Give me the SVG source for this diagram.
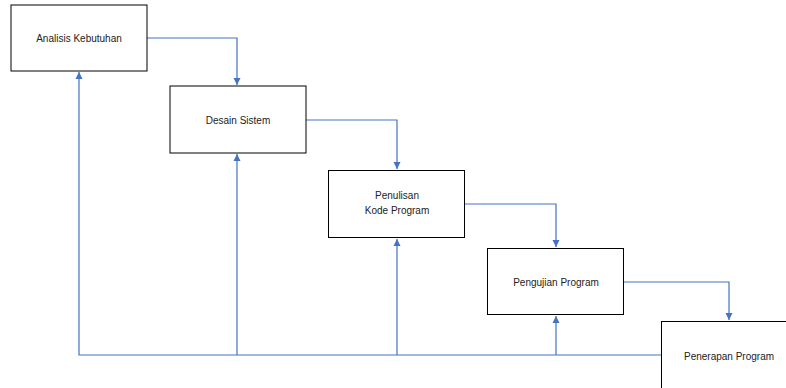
<svg xmlns="http://www.w3.org/2000/svg" width="786" height="388" viewBox="0 0 786 388">
<style>
.box{fill:#fff;stroke:#000;stroke-width:1}
.lbl{font-family:"Liberation Sans",Arial,sans-serif;font-size:10px;fill:#222;text-anchor:middle}
.c{fill:none;stroke:#4472C4;stroke-width:1.2}
</style>
<defs>
<marker id="a" markerWidth="8" markerHeight="8" refX="7" refY="4" orient="auto" markerUnits="userSpaceOnUse">
<path d="M0,0.5 L7,4 L0,7.5 Z" fill="#4472C4"/>
</marker>
</defs>
<g id="connectors">
<path class="c" d="M147,38 H237 V85" marker-end="url(#a)"/>
<path class="c" d="M306,120 H397 V169" marker-end="url(#a)"/>
<path class="c" d="M465,204 H556 V247" marker-end="url(#a)"/>
<path class="c" d="M623,282 H729 V320" marker-end="url(#a)"/>
<path class="c" d="M661,355 H79 V72" marker-end="url(#a)"/>
<path class="c" d="M237,355 V154" marker-end="url(#a)"/>
<path class="c" d="M397,355 V239" marker-end="url(#a)"/>
<path class="c" d="M556,355 V316" marker-end="url(#a)"/>
</g>
<g id="n1"><rect class="box" x="11" y="5" width="136" height="66"/><text class="lbl" x="79" y="41.5">Analisis Kebutuhan</text></g>
<g id="n2"><rect class="box" x="170" y="86" width="136" height="67"/><text class="lbl" x="238" y="123.5">Desain Sistem</text></g>
<g id="n3"><rect class="box" x="328.500" y="170.500" width="136" height="67"/><text class="lbl" x="397" y="199">Penulisan</text><text class="lbl" x="397" y="214">Kode Program</text></g>
<g id="n4"><rect class="box" x="487.500" y="248.500" width="136" height="66"/><text class="lbl" x="556" y="285.500">Pengujian Program</text></g>
<g id="n5"><rect class="box" x="661.500" y="321.500" width="136" height="67"/><text class="lbl" x="729" y="359.500">Penerapan Program</text></g>
</svg>
